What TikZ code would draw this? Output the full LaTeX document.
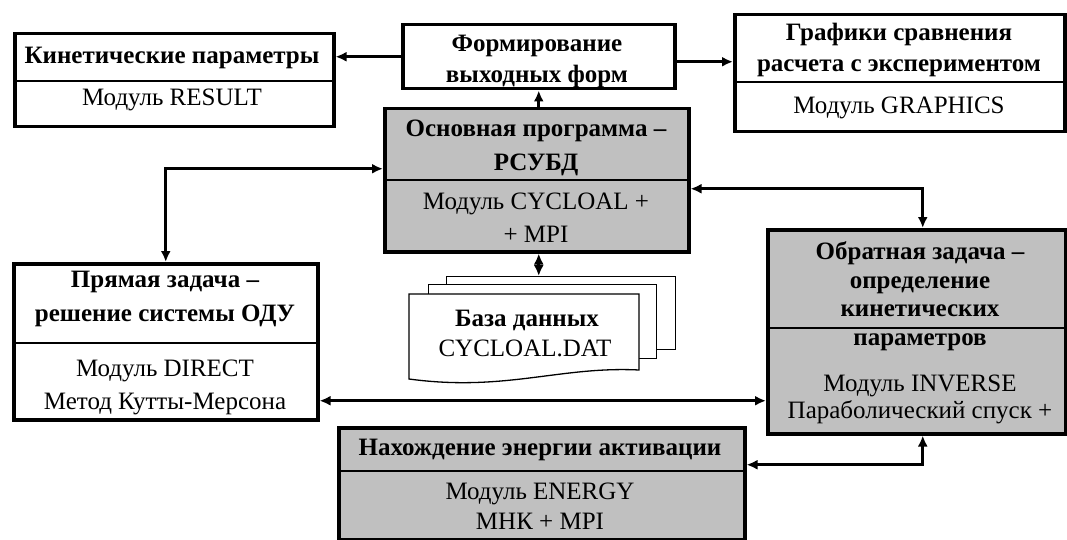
\documentclass[tikz,border=0pt]{standalone}
\usepackage{fontspec}
\setmainfont{Liberation Serif}
\usetikzlibrary{arrows.meta}
\definecolor{boxgray}{RGB}{192,192,192}
\begin{document}
\begin{tikzpicture}[x=1pt,y=-1pt,line join=miter,
  boxw/.style={draw,line width=3.5pt,fill=white,inner sep=0pt,anchor=north west},
  boxg/.style={boxw,fill=boxgray},
  page/.style={draw,line width=1.3pt,fill=white,inner sep=0pt,anchor=north west},
  divl/.style={line width=1.3pt},
  conn/.style={line width=3pt,-{Latex[length=11pt,width=10pt]}},
  conn2/.style={line width=3pt,{Latex[length=11pt,width=10pt]}-{Latex[length=11pt,width=10pt]}},
  rt/.style={inner sep=0pt,anchor=base,font=\fontsize{25}{29}\selectfont},
  bt/.style={inner sep=0pt,anchor=base,font=\fontsize{25}{29}\selectfont\bfseries}]
\useasboundingbox (0,0) rectangle (1067,540);
% boxes
\node[boxw,minimum width=319pt,minimum height=93pt] (kp) at (13,32) {};
\node[boxw,minimum width=272pt,minimum height=64pt] (form) at (401,23) {};
\node[boxw,minimum width=330pt,minimum height=117pt] (graph) at (733,13) {};
\node[boxg,minimum width=304pt,minimum height=143pt] (main) at (383,107) {};
\node[boxw,minimum width=304pt,minimum height=156pt] (direct) at (12,262) {};
\node[boxg,minimum width=298pt,minimum height=204pt] (inverse) at (766,228) {};
\node[boxg,minimum width=406pt,minimum height=112pt] (energy) at (337,426) {};
% dividers
\draw[divl] (kp.west |- 0,81) -- (kp.east |- 0,81);
\draw[divl] (graph.west |- 0,82) -- (graph.east |- 0,82);
\draw[divl] (main.west |- 0,180) -- (main.east |- 0,180);
\draw[divl] (direct.west |- 0,343) -- (direct.east |- 0,343);
\draw[divl] (inverse.west |- 0,328) -- (inverse.east |- 0,328);
\draw[divl] (energy.west |- 0,471) -- (energy.east |- 0,471);
% database pages
\node[page,minimum width=229pt,minimum height=73pt] (db3) at (446,276) {};
\node[page,minimum width=228pt,minimum height=74pt] (db2) at (428,284) {};
\draw[page] (409,294) -- (639,294) -- (639,370) .. controls (560,366) and (505,392) .. (409,379) -- cycle;
% texts
\node[bt] (kp1) at (172,64) {Кинетические параметры};
\node[rt] (kp2) at (172,106) {Модуль RESULT};
\node[bt] (form1) at (537,52) {Формирование};
\node[bt] (form2) at (537,83) {выходных форм};
\node[bt] (graph1) at (899,41) {Графики сравнения};
\node[bt] (graph2) at (899,72) {расчета с экспериментом};
\node[rt] (graph3) at (899,114) {Модуль GRAPHICS};
\node[bt] (main1) at (536,137) {Основная программа –};
\node[bt] (main2) at (536,171) {РСУБД};
\node[rt] (main3) at (536,209) {Модуль CYCLOAL +};
\node[rt] (main4) at (536,242) {+ MPI};
\node[bt] (dir1) at (165,287) {Прямая задача –};
\node[bt] (dir2) at (165,321) {решение системы ОДУ};
\node[rt] (dir3) at (165,376) {Модуль DIRECT};
\node[rt] (dir4) at (165,409) {Метод Кутты-Мерсона};
\node[bt] (inv1) at (920,259) {Обратная задача –};
\node[bt] (inv2) at (920,288) {определение};
\node[bt] (inv3) at (920,316) {кинетических};
\node[bt] (inv4) at (920,345) {параметров};
\node[rt] (inv5) at (920,391) {Модуль INVERSE};
\node[rt] (inv6) at (920,418) {Параболический спуск +};
\node[bt] (en1) at (540,455) {Нахождение энергии активации};
\node[rt] (en2) at (540,499) {Модуль ENERGY};
\node[rt] (en3) at (540,529) {МНК + MPI};
\node[bt] (db1t) at (527,326) {База данных};
\node[rt] (db2t) at (525,356) {CYCLOAL.DAT};
% connectors
\draw[conn] (form.west) -- (form.west -| kp.east);
\draw[conn] ([yshift=-5pt]form.east) -- ([yshift=-5pt]form.east -| graph.west);
\draw[conn] (form.south |- main.north) -- (form.south);
\draw[conn2] ([yshift=11.5pt]main.west) -| (direct.north);
\draw[conn2] ([yshift=-8.5pt]main.east) -| ([xshift=6pt]inverse.north);
\draw[conn2] ([xshift=2pt]main.south) -- ([xshift=2pt]main.south |- db3.north);
\draw[conn2] ([yshift=-59pt]direct.east) -- ([yshift=-59pt]direct.east -| inverse.west);
\draw[conn2] ([yshift=19pt]energy.east) -| ([xshift=6pt]inverse.south);
\end{tikzpicture}
\end{document}
